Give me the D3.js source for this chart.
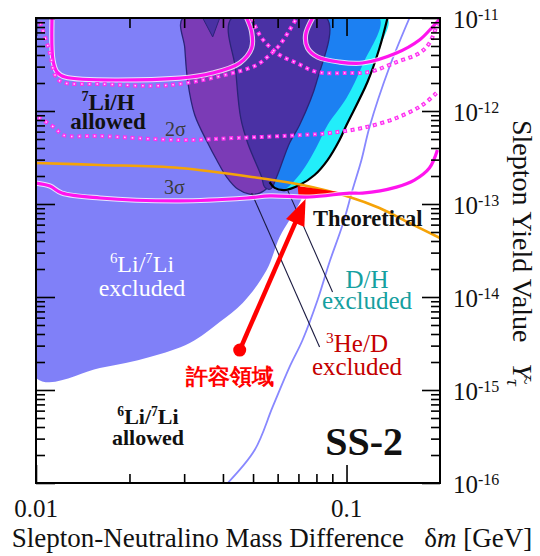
<!DOCTYPE html>
<html>
<head>
<meta charset="utf-8">
<script src="https://cdn.jsdelivr.net/npm/d3@7"></script>
<style>
  body { margin: 0; background: #fff; }
  svg text { font-family: "Liberation Serif", "Times New Roman", serif; }
</style>
</head>
<body>
<div id="chart"></div>
<script>
// axis ticks
const xMajorTicks = [0.01, 0.1];
const xTickLabels = ["0.01", "0.1"];
const xMinorTicks = [0.02, 0.03, 0.04, 0.05, 0.06, 0.07, 0.08, 0.09];
const yMajorTicks = [1e-11, 1e-12, 1e-13, 1e-14, 1e-15, 1e-16];
const yTickExponents = ["-11", "-12", "-13", "-14", "-15", "-16"];

// regions: [delta m (GeV), yield]
const li6ExcludedArea = [
  [0.01, 1e-11], [0.01, 1.35e-15], [0.01606, 1.72e-15], [0.02326, 2.26e-15],
  [0.03128, 3.2e-15], [0.03905, 5.38e-15], [0.04631, 8.62e-15], [0.05531, 1.95e-14],
  [0.0609, 4.42e-14], [0.06556, 6.73e-14], [0.0706, 1.025e-13], [0.07219, 1.25e-13],
  [0.0706, 1.6e-13], [0.06803, 3.81e-13], [0.0706, 1e-11]
];
const dhArea = [
  [0.1355, 1e-11], [0.1277, 4.76e-12], [0.1168, 2.05e-12], [0.1, 7.07e-13],
  [0.09495, 4.88e-13], [0.08689, 2.97e-13], [0.0789, 2.05e-13], [0.0706, 1.6e-13],
  [0.06318, 1.41e-13], [0.05869, 1.49e-13], [0.05655, 1.72e-13], [0.05449, 8.0e-13],
  [0.0706, 1e-11]
];
const dhCoreArea = [
  [0.0706, 1e-11], [0.1277, 1e-11], [0.1126, 3.12e-12], [0.1, 1.38e-12],
  [0.08689, 7.07e-13], [0.08068, 4.31e-13], [0.07492, 2.76e-13], [0.06956, 1.95e-13],
  [0.06318, 1.45e-13], [0.05869, 1.52e-13], [0.05655, 1.72e-13], [0.05449, 3.81e-13]
];
const he3dArea = [
  [0.0297, 1e-11], [0.03014, 4.76e-12], [0.03082, 2.05e-12], [0.03245, 9.06e-13],
  [0.03573, 4.53e-13], [0.03819, 2.97e-13], [0.04113, 1.95e-13], [0.04462, 1.45e-13],
  [0.04877, 1.28e-13], [0.05251, 1.31e-13], [0.05572, 1.52e-13], [0.0574, 2.32e-13],
  [0.05655, 1e-11]
];
const overlapArea = [
  [0.04268, 1e-11], [0.08625, 1e-11], [0.08008, 2.05e-12], [0.0706, 7.07e-13],
  [0.06556, 4.53e-13], [0.05956, 1.95e-13], [0.05695, 1.45e-13], [0.05449, 1.52e-13],
  [0.0533, 1.95e-13], [0.04805, 4.53e-13], [0.04563, 8.41e-13], [0.04396, 2.76e-12]
];
const overlapNotch = [[0.03443, 1e-11], [0.03707, 6.25e-12], [0.03905, 1e-11]];
const allowedWedge = [[0.06956, 1.56e-13], [0.09927, 1.31e-13], [0.07603, 1.19e-13], [0.07008, 1.22e-13]];

// lines
const dhBoundary = [
  [0.1355, 1e-11], [0.1277, 4.76e-12], [0.1168, 2.05e-12], [0.1, 7.07e-13],
  [0.09495, 4.88e-13], [0.08689, 2.97e-13], [0.0789, 2.05e-13], [0.0706, 1.6e-13],
  [0.06318, 1.41e-13], [0.05869, 1.49e-13], [0.05655, 1.72e-13]
];
const theoryLine = [
  [0.01, 2.76e-13], [0.01606, 2.63e-13], [0.02904, 2.44e-13], [0.05251, 1.9e-13],
  [0.07219, 1.6e-13], [0.1022, 1.19e-13], [0.1277, 9.06e-14], [0.1595, 6.25e-14], [0.2, 4.31e-14]
];
const sigma3Line = [
  [0.01, 1.68e-13], [0.01109, 1.56e-13], [0.01212, 1.31e-13], [0.01606, 1.16e-13],
  [0.02904, 1.08e-13], [0.0477, 1.16e-13], [0.05655, 1.22e-13], [0.07603, 1.19e-13],
  [0.1022, 1.31e-13], [0.1126, 1.31e-13], [0.1448, 1.52e-13], [0.1654, 1.81e-13],
  [0.1849, 2.44e-13], [0.1962, 3.81e-13]
];
const sigma2Dotted = [
  [0.01015, 8.62e-13], [0.01151, 6.57e-13], [0.01221, 5.52e-13], [0.01606, 5.38e-13],
  [0.02904, 4.88e-13], [0.0443, 5.13e-13], [0.07219, 5.52e-13], [0.08817, 5.8e-13],
  [0.1126, 6.57e-13], [0.1448, 8.41e-13], [0.1755, 1.16e-12], [0.1948, 1.56e-12]
];
const sigma1LeftLine = [
  [0.01126, 1e-11], [0.01134, 3.54e-12], [0.01168, 2.63e-12], [0.0124, 2.32e-12],
  [0.02904, 2.26e-12], [0.03707, 2.56e-12], [0.04529, 3.28e-12], [0.04949, 4.76e-12],
  [0.04949, 7.07e-12], [0.0477, 1e-11]
];
const sigma1RightLine = [
  [0.07774, 1e-11], [0.07382, 6.57e-12], [0.07492, 4.76e-12], [0.08068, 3.81e-12],
  [0.09495, 3.36e-12], [0.1126, 3.28e-12], [0.1448, 4.2e-12], [0.1717, 5.8e-12],
  [0.1891, 8.0e-12], [0.2, 9.77e-12]
];
const sigma1DottedA = [
  [0.0103, 9.06e-12], [0.01109, 4.2e-12], [0.01151, 2.44e-12], [0.01212, 2.05e-12],
  [0.01606, 1.95e-12], [0.02697, 1.9e-12], [0.0443, 2.63e-12], [0.05136, 3.12e-12],
  [0.05655, 4.0e-12], [0.0609, 5.13e-12], [0.06556, 7.43e-12], [0.06905, 1e-11]
];
const sigma1DottedB = [
  [0.04949, 1e-11], [0.05251, 6.57e-12], [0.05572, 5.13e-12], [0.0609, 4.0e-12],
  [0.06905, 3.28e-12], [0.08008, 2.63e-12], [0.1, 2.56e-12], [0.1186, 2.63e-12],
  [0.1448, 3.36e-12], [0.1717, 4.2e-12], [0.1849, 5.38e-12], [0.1948, 8.0e-12], [0.2, 9.52e-12]
];
const lifetimeLine = [
  [0.04144, 1e-16], [0.0506, 2.26e-16], [0.05782, 6.57e-16], [0.06556, 1.77e-15],
  [0.07219, 3.45e-15], [0.08068, 9.28e-15], [0.08817, 2.38e-14], [0.09708, 5.94e-14],
  [0.1045, 1.41e-13], [0.1117, 2.97e-13], [0.1186, 6.73e-13], [0.1375, 2.97e-12], [0.1595, 1e-11]
];
const he3dPointer = [[0.04949, 1.31e-13], [0.08188, 2.9e-15]];
const dhPointer = [[0.06461, 1.41e-13], [0.09016, 1.13e-14]];
const allowedArrow = [[0.04529, 2.69e-15], [0.07382, 1.13e-13]];

const w = 540;
const h = 556;

const x = d3.scaleLog().domain([0.01, 0.2]).range([36, 440]);
const y = d3.scaleLog().domain([1e-16, 1e-11]).range([483, 18]);
const [plotLeft, plotRight] = x.range();
const [plotBottom, plotTop] = y.range();

const svg = d3.select("#chart")
  .append("svg")
  .attr("width", w)
  .attr("height", h)
  .style("display", "block");

svg.append("rect").attr("width", w).attr("height", h).attr("fill", "#fff");

svg.append("clipPath").attr("id", "plot-clip")
  .append("rect")
  .attr("x", plotLeft).attr("y", plotTop)
  .attr("width", plotRight - plotLeft).attr("height", plotBottom - plotTop);

const plot = svg.append("g").attr("clip-path", "url(#plot-clip)");

const closed = d3.line().x(d => x(d[0])).y(d => y(d[1])).curve(d3.curveCatmullRomClosed.alpha(0.5));
const open = d3.line().x(d => x(d[0])).y(d => y(d[1])).curve(d3.curveCatmullRom.alpha(0.5));
const straight = d3.line().x(d => x(d[0])).y(d => y(d[1])).curve(d3.curveLinearClosed);

// filled regions, back to front
plot.append("path").attr("d", closed(li6ExcludedArea)).attr("fill", "#8080f8");
plot.append("path").attr("d", closed(dhArea)).attr("fill", "#22eefa");
plot.append("path").attr("d", closed(dhCoreArea)).attr("fill", "#1c80f2");
plot.append("path").attr("d", closed(he3dArea)).attr("fill", "#7b3bb6")
  .attr("stroke", "#2b2478").attr("stroke-width", 1.3);
plot.append("path").attr("d", closed(overlapArea)).attr("fill", "#4a31a4")
  .attr("stroke", "#2b2478").attr("stroke-width", 1.3);
plot.append("path").attr("d", straight(overlapNotch))
  .attr("fill", "#4a31a4").attr("stroke", "#2b2478").attr("stroke-width", 1);

plot.append("path").attr("d", open(dhBoundary))
  .attr("fill", "none").attr("stroke", "#000").attr("stroke-width", 2.2);

// thin blue line
plot.append("path").attr("d", open(lifetimeLine))
  .attr("fill", "none").attr("stroke", "#8888ff").attr("stroke-width", 1.8);

// pointer lines
[he3dPointer, dhPointer].forEach(p => {
  plot.append("line")
    .attr("x1", x(p[0][0])).attr("y1", y(p[0][1]))
    .attr("x2", x(p[1][0])).attr("y2", y(p[1][1]))
    .attr("stroke", "#1a1a40").attr("stroke-width", 1.1);
});

// theoretical line
plot.append("path").attr("d", open(theoryLine))
  .attr("fill", "none").attr("stroke", "#f5a308").attr("stroke-width", 2.6);

// allowed region wedge
plot.append("path").attr("d", straight(allowedWedge)).attr("fill", "#ff0000");

// magenta contours
function solidContour(data) {
  plot.append("path").attr("d", open(data)).attr("fill", "none")
    .attr("stroke", "#fff").attr("stroke-width", 5.2).attr("stroke-opacity", 0.8);
  plot.append("path").attr("d", open(data)).attr("fill", "none")
    .attr("stroke", "#ff14ee").attr("stroke-width", 3.2);
}
function dottedContour(data) {
  plot.append("path").attr("d", open(data)).attr("fill", "none")
    .attr("stroke", "#ff30f0").attr("stroke-width", 4).attr("stroke-dasharray", "4 3.6");
  plot.append("path").attr("d", open(data)).attr("fill", "none")
    .attr("stroke", "#ffd6ff").attr("stroke-width", 1.5)
    .attr("stroke-dasharray", "1.5 6.1").attr("stroke-dashoffset", -1.25);
}
[sigma1LeftLine, sigma1RightLine, sigma3Line].forEach(solidContour);
[sigma1DottedA, sigma1DottedB, sigma2Dotted].forEach(dottedContour);

// red arrow
const ax0 = x(allowedArrow[0][0]), ay0 = y(allowedArrow[0][1]);
const ax1 = x(allowedArrow[1][0]), ay1 = y(allowedArrow[1][1]);
const len = Math.hypot(ax1 - ax0, ay1 - ay0);
const ux = (ax1 - ax0) / len, uy = (ay1 - ay0) / len;
const headLen = 26, headHalf = 10;
svg.append("line")
  .attr("x1", ax0).attr("y1", ay0)
  .attr("x2", ax1 - ux * (headLen - 2)).attr("y2", ay1 - uy * (headLen - 2))
  .attr("stroke", "#ff0000").attr("stroke-width", 4.5);
svg.append("path")
  .attr("d", `M${ax1},${ay1}L${ax1 - ux * headLen - uy * headHalf},${ay1 - uy * headLen + ux * headHalf}L${ax1 - ux * headLen + uy * headHalf},${ay1 - uy * headLen - ux * headHalf}Z`)
  .attr("fill", "#ff0000");
svg.append("circle").attr("cx", ax0).attr("cy", ay0).attr("r", 6.5).attr("fill", "#ff0000");

// ticks (inward, all four sides)
const yMinorTicks = [];
yMajorTicks.slice(0, -1).forEach(v => {
  for (let m = 2; m <= 9; m++) yMinorTicks.push(v / 10 * m);
});

function tickAxis(axisFn, values, size, transform) {
  svg.append("g")
    .attr("transform", transform)
    .call(axisFn.tickValues(values).tickSize(size).tickFormat(""))
    .call(g => g.select(".domain").remove())
    .call(g => g.selectAll("line").attr("stroke", "#000").attr("stroke-width", 1.6));
}
tickAxis(d3.axisBottom(x), xMajorTicks, -18, `translate(0,${plotBottom})`);
tickAxis(d3.axisBottom(x), xMinorTicks, -9, `translate(0,${plotBottom})`);
tickAxis(d3.axisTop(x), xMajorTicks, -18, `translate(0,${plotTop})`);
tickAxis(d3.axisTop(x), xMinorTicks, -10, `translate(0,${plotTop})`);
tickAxis(d3.axisLeft(y), yMajorTicks, -19, `translate(${plotLeft},0)`);
tickAxis(d3.axisLeft(y), yMinorTicks, -9, `translate(${plotLeft},0)`);
tickAxis(d3.axisRight(y), yMajorTicks, -18, `translate(${plotRight},0)`);
tickAxis(d3.axisRight(y), yMinorTicks, -9, `translate(${plotRight},0)`);

// frame
svg.append("rect")
  .attr("x", plotLeft).attr("y", plotTop)
  .attr("width", plotRight - plotLeft).attr("height", plotBottom - plotTop)
  .attr("fill", "none").attr("stroke", "#000").attr("stroke-width", 2);

// tick labels
svg.selectAll(".xlabel")
  .data(xMajorTicks)
  .enter()
  .append("text")
  .attr("class", "xlabel")
  .attr("x", d => x(d))
  .attr("y", plotBottom + 34)
  .attr("text-anchor", "middle")
  .attr("font-size", 25)
  .attr("fill", "#111")
  .text((d, i) => xTickLabels[i]);

yMajorTicks.forEach((v, i) => {
  const t = svg.append("text")
    .attr("x", plotRight + 13)
    .attr("y", y(v) + 10)
    .attr("font-size", 25)
    .attr("fill", "#111");
  t.append("tspan").text("10");
  t.append("tspan").attr("dy", -8).attr("font-size", 16).text(yTickExponents[i]);
});

// axis titles
const xTitle = svg.append("text")
  .attr("x", 272)
  .attr("y", 547)
  .attr("text-anchor", "middle")
  .attr("font-size", 27)
  .attr("fill", "#111");
xTitle.append("tspan").text("Slepton-Neutralino Mass Difference\u2002 \u03b4");
xTitle.append("tspan").attr("font-style", "italic").text("m");
xTitle.append("tspan").text(" [GeV]");

const yTitle = svg.append("text")
  .attr("transform", "translate(513,120) rotate(90)")
  .attr("font-size", 28)
  .attr("fill", "#111");
yTitle.append("tspan").text("Slepton Yield Value\u2002 ");
yTitle.append("tspan").attr("font-style", "italic").text("Y");
yTitle.append("tspan").attr("font-style", "italic").attr("font-size", 19).attr("dy", 6).text("\u03c4");
yTitle.append("tspan").attr("font-size", 16).attr("dx", -10).attr("dy", -13).text("~");

// annotations with superscripts
function richText(xPos, yPos, parts, size, attrs) {
  const t = svg.append("text").attr("x", xPos).attr("y", yPos).attr("font-size", size);
  Object.entries(attrs).forEach(([k, v]) => t.attr(k, v));
  let shift = 0;
  parts.forEach(p => {
    const target = p.sup ? -0.38 * size : 0;
    const ts = t.append("tspan").attr("dy", target - shift).text(p.text);
    if (p.sup) ts.attr("font-size", size * 0.62);
    shift = target;
  });
  return t;
}

richText(108, 110, [{ text: "7", sup: true }, { text: "Li/H" }], 23,
  { "text-anchor": "middle", "font-weight": "bold", fill: "#111" });
richText(108, 129, [{ text: "allowed" }], 23,
  { "text-anchor": "middle", "font-weight": "bold", fill: "#111" });

richText(142, 272, [{ text: "6", sup: true }, { text: "Li/" }, { text: "7", sup: true }, { text: "Li" }], 24,
  { "text-anchor": "middle", fill: "#fff" });
richText(142, 296, [{ text: "excluded" }], 24, { "text-anchor": "middle", fill: "#fff" });

richText(148, 424, [{ text: "6", sup: true }, { text: "Li/" }, { text: "7", sup: true }, { text: "Li" }], 22,
  { "text-anchor": "middle", "font-weight": "bold", fill: "#111" });
richText(148, 445, [{ text: "allowed" }], 22,
  { "text-anchor": "middle", "font-weight": "bold", fill: "#111" });

richText(313, 226, [{ text: "Theoretical" }], 22.5, { "font-weight": "bold", fill: "#111" });

richText(367, 288, [{ text: "D/H" }], 25, { "text-anchor": "middle", fill: "#15a0a0" });
richText(367, 309, [{ text: "excluded" }], 25, { "text-anchor": "middle", fill: "#15a0a0" });

richText(357, 352, [{ text: "3", sup: true }, { text: "He/D" }], 25, { "text-anchor": "middle", fill: "#c40000" });
richText(357, 375, [{ text: "excluded" }], 25, { "text-anchor": "middle", fill: "#c40000" });

richText(230, 384, [{ text: "許容領域" }], 22,
  { "text-anchor": "middle", "font-weight": "bold", fill: "#ff0000",
    "font-family": "'Noto Sans CJK JP', sans-serif" });

richText(403, 455, [{ text: "SS-2" }], 40, { "text-anchor": "end", "font-weight": "bold", fill: "#111" });

richText(164, 194, [{ text: "3\u03c3" }], 20, { fill: "#3a3a3a" });
richText(165, 136, [{ text: "2\u03c3" }], 20, { fill: "#3a3a3a" });
</script>
</body>
</html>
